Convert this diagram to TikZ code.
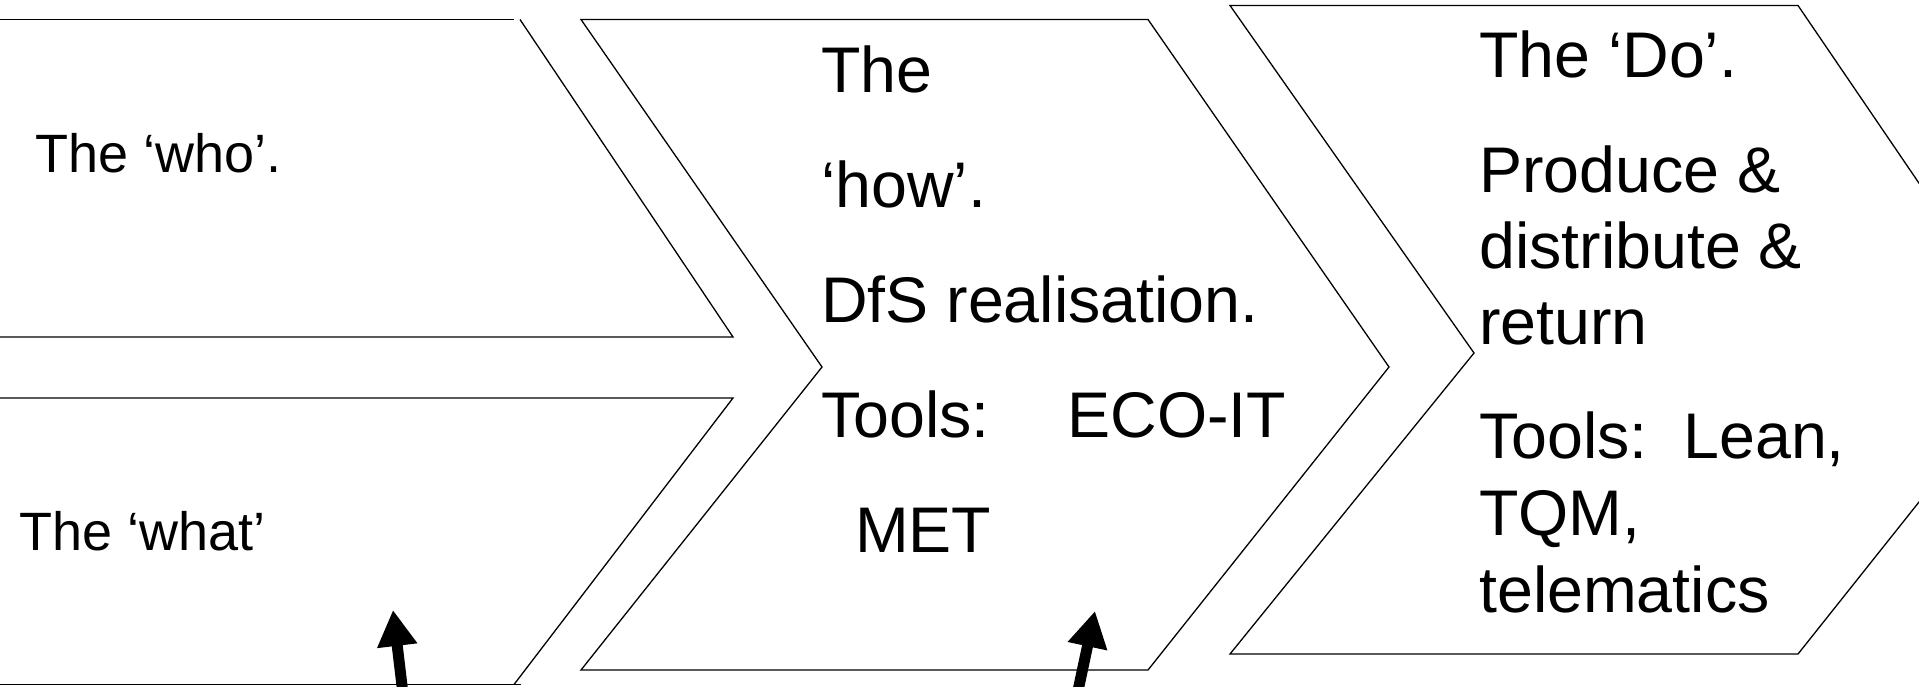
\documentclass[tikz,border=0pt]{standalone}
\usepackage{fontspec}
\setmainfont{Liberation Sans}
\usetikzlibrary{arrows.meta}
\begin{document}
\begin{tikzpicture}[x=1pt,y=-1pt,
  shapeline/.style={line width=1.3pt, line join=miter},
  bigtxt/.style={anchor=base west, inner sep=0pt, font=\fontsize{64.5}{77}\selectfont},
  smalltxt/.style={anchor=base west, inner sep=0pt, font=\fontsize{54}{64}\selectfont},
  uparrow/.style={line width=11pt, -{Triangle[length=36pt,width=38pt]}}]
\useasboundingbox (0,0) rectangle (1919,686);
\clip (0,0) rectangle (1919,686);
% shape 1: the who
\draw[shapeline] (0,19.5) -- (514,19.5);
\draw[shapeline] (520,19.5) -- (733,337) -- (0,337);
% shape 2: the what
\draw[shapeline] (0,398) -- (733,398) -- (514,684.5);
\draw[shapeline] (0,684.5) -- (521,684.5);
% chevron: the how
\draw[shapeline] (581,19.5) -- (1148,19.5) -- (1389,367) -- (1148,670) -- (581,670) -- (822,367) -- cycle;
% chevron: the do
\draw[shapeline] (1230,5.5) -- (1798,5.5) -- (2036,355) -- (1798,654) -- (1230,654) -- (1474,353) -- cycle;
% texts
\node[smalltxt] (who) at (35,172) {The ‘who’.};
\node[smalltxt] (what) at (19,550) {The ‘what’};
\node[bigtxt] (how1) at (821,92) {The};
\node[bigtxt] (how2) at (821,207) {‘how’.};
\node[bigtxt] (how3) at (821,322) {DfS realisation.};
\node[bigtxt] (how4) at (821,437) {Tools:\hspace{78pt}ECO-IT};
\node[bigtxt] (how5) at (855,552) {MET};
\node[bigtxt] (do1) at (1479,77) {The ‘Do’.};
\node[bigtxt] (do2) at (1479,192) {Produce \&};
\node[bigtxt] (do3) at (1479,268) {distribute \&};
\node[bigtxt] (do4) at (1479,344) {return};
\node[bigtxt] (do5) at (1479,458) {Tools:\ \ Lean,};
\node[bigtxt] (do6) at (1479,535) {TQM,};
\node[bigtxt] (do7) at (1479,612) {telematics};
% arrows
\coordinate (a1tail) at (403.7,700);
\coordinate (a1tip) at (393,610);
\coordinate (a2tail) at (1076,700);
\coordinate (a2tip) at (1095,611);
\draw[uparrow] (a1tail) -- (a1tip);
\draw[uparrow] (a2tail) -- (a2tip);
\end{tikzpicture}
\end{document}
